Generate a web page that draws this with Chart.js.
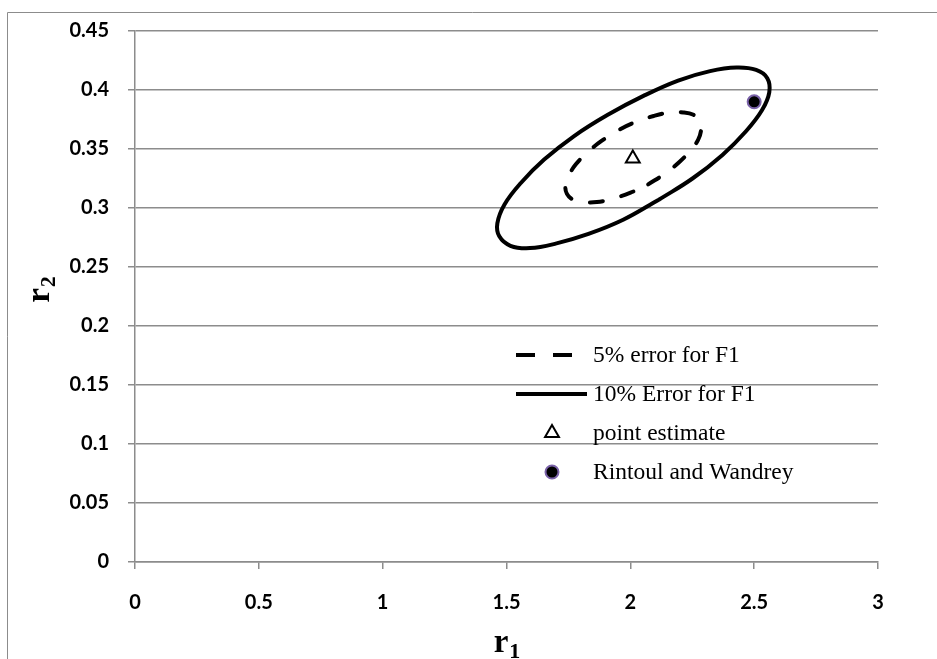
<!DOCTYPE html>
<html>
<head>
<meta charset="utf-8">
<title>r1 / r2 confidence regions</title>
<script src="https://cdn.jsdelivr.net/npm/chart.js@4.4.1/dist/chart.umd.min.js"></script>
<style>
  html, body { margin: 0; padding: 0; background: #ffffff; }
  #wrap { width: 937px; height: 659px; position: relative; }
</style>
</head>
<body>
<div id="wrap"><canvas id="chart" width="937" height="659"></canvas></div>
<script>
// Axis tick labels
const xTickLabels = ['0', '0.5', '1', '1.5', '2', '2.5', '3'];
const yTickLabels = ['0', '0.05', '0.1', '0.15', '0.2', '0.25', '0.3', '0.35', '0.4', '0.45'];

// Series names
const seriesNames = ['5% error for F1', '10% Error for F1', 'point estimate', 'Rintoul and Wandrey'];

// 5% error contour for F1 (closed loop, r1 / r2), starting on the lower-right side
const r1Err5 = [2.072, 2.139, 2.198, 2.244, 2.274, 2.286, 2.280, 2.255, 2.214, 2.159, 2.094, 2.023,
                1.952, 1.885, 1.826, 1.780, 1.750, 1.738, 1.744, 1.769, 1.810, 1.865, 1.930, 2.001, 2.072];
const r2Err5 = [0.320, 0.329, 0.339, 0.349, 0.358, 0.367, 0.374, 0.379, 0.381, 0.381, 0.378, 0.373,
                0.366, 0.357, 0.347, 0.337, 0.327, 0.319, 0.312, 0.307, 0.305, 0.305, 0.308, 0.313, 0.320];

// 10% error contour for F1 (closed loop, r1 / r2), starting on the lower-right side
const r1Err10 = [2.115, 2.251, 2.372, 2.467, 2.532, 2.561, 2.553, 2.508, 2.429, 2.322, 2.193, 2.053,
                 1.909, 1.773, 1.652, 1.557, 1.492, 1.463, 1.471, 1.516, 1.595, 1.702, 1.831, 1.971, 2.115];
const r2Err10 = [0.307, 0.325, 0.345, 0.365, 0.383, 0.398, 0.410, 0.417, 0.419, 0.416, 0.408, 0.395,
                 0.379, 0.361, 0.341, 0.321, 0.303, 0.287, 0.276, 0.268, 0.266, 0.270, 0.278, 0.290, 0.307];

// Point estimate and literature value
const r1Estimate = [2.01];
const r2Estimate = [0.342];
const r1Rintoul = [2.5];
const r2Rintoul = [0.39];

const toPoints = (xs, ys) => xs.map((x, i) => ({ x: x, y: ys[i] }));

const GRID = '#8c8c8c';
const PURPLE = '#7a62a8';

// Outer frame around the chart area
const framePlugin = {
  id: 'frame',
  beforeDraw(chart) {
    const ctx = chart.ctx;
    ctx.save();
    ctx.fillStyle = '#ffffff';
    ctx.fillRect(0, 0, chart.width, chart.height);
    ctx.strokeStyle = GRID;
    ctx.lineWidth = 1;
    ctx.beginPath();
    ctx.moveTo(7.5, chart.height + 2);
    ctx.lineTo(7.5, 12.5);
    ctx.lineTo(chart.width + 2, 12.5);
    ctx.stroke();
    ctx.restore();
  }
};

// Axis titles with subscripts
const axisTitlePlugin = {
  id: 'axisTitles',
  afterDraw(chart) {
    const ctx = chart.ctx;
    const area = chart.chartArea;
    const big = 'bold 33px "Liberation Serif"';
    const small = 'bold 22px "Liberation Serif"';
    const drawTitle = (main, sub) => {
      ctx.font = big;
      const w1 = ctx.measureText(main).width;
      ctx.font = small;
      const w2 = ctx.measureText(sub).width;
      const start = -(w1 + w2) / 2;
      ctx.textBaseline = 'alphabetic';
      ctx.textAlign = 'left';
      ctx.font = big;
      ctx.fillText(main, start, 0);
      ctx.font = small;
      ctx.fillText(sub, start + w1 + 1, 6);
    };
    ctx.save();
    ctx.fillStyle = '#000000';
    ctx.translate((area.left + area.right) / 2, 652);
    drawTitle('r', '1');
    ctx.restore();

    ctx.save();
    ctx.fillStyle = '#000000';
    ctx.translate(49, 290);
    ctx.rotate(-Math.PI / 2);
    drawTitle('r', '2');
    ctx.restore();
  }
};

// Legend drawn inside the plot area
const legendPlugin = {
  id: 'innerLegend',
  afterDraw(chart) {
    const ctx = chart.ctx;
    const rows = [355, 394, 433, 472];
    const textX = 593;
    ctx.save();
    ctx.font = '23.5px "Liberation Serif"';
    ctx.textBaseline = 'middle';
    ctx.textAlign = 'left';
    ctx.fillStyle = '#000000';

    // dashed sample
    ctx.strokeStyle = '#000000';
    ctx.lineWidth = 4;
    ctx.lineCap = 'butt';
    ctx.setLineDash([19, 18]);
    ctx.beginPath();
    ctx.moveTo(516, rows[0]);
    ctx.lineTo(573, rows[0]);
    ctx.stroke();
    ctx.setLineDash([]);

    // solid sample
    ctx.beginPath();
    ctx.moveTo(516, rows[1]);
    ctx.lineTo(587, rows[1]);
    ctx.stroke();

    // triangle sample
    const r = 8;
    const cx = 552, cy = rows[2];
    ctx.lineWidth = 2;
    ctx.beginPath();
    ctx.moveTo(cx, cy - r);
    ctx.lineTo(cx + r * Math.cos(Math.PI / 6), cy + r * Math.sin(Math.PI / 6));
    ctx.lineTo(cx - r * Math.cos(Math.PI / 6), cy + r * Math.sin(Math.PI / 6));
    ctx.closePath();
    ctx.fillStyle = '#ffffff';
    ctx.fill();
    ctx.stroke();

    // circle sample
    ctx.beginPath();
    ctx.arc(552, rows[3], 6.5, 0, Math.PI * 2);
    ctx.fillStyle = '#000000';
    ctx.fill();
    ctx.strokeStyle = PURPLE;
    ctx.lineWidth = 2;
    ctx.stroke();

    ctx.fillStyle = '#000000';
    seriesNames.forEach((name, i) => ctx.fillText(name, textX, rows[i] + 1));
    ctx.restore();
  }
};

new Chart(document.getElementById('chart'), {
  type: 'scatter',
  data: {
    datasets: [
      {
        label: seriesNames[0],
        data: toPoints(r1Err5, r2Err5),
        showLine: true,
        borderColor: '#000000',
        borderWidth: 4,
        borderDash: [13, 19],
        borderCapStyle: 'round',
        tension: 0.4,
        pointRadius: 0,
        fill: false
      },
      {
        label: seriesNames[1],
        data: toPoints(r1Err10, r2Err10),
        showLine: true,
        borderColor: '#000000',
        borderWidth: 4,
        tension: 0.4,
        pointRadius: 0,
        fill: false
      },
      {
        label: seriesNames[2],
        data: toPoints(r1Estimate, r2Estimate),
        pointStyle: 'triangle',
        pointRadius: 8,
        pointBorderWidth: 2,
        pointBackgroundColor: '#ffffff',
        pointBorderColor: '#000000'
      },
      {
        label: seriesNames[3],
        data: toPoints(r1Rintoul, r2Rintoul),
        pointStyle: 'circle',
        pointRadius: 6.5,
        pointBorderWidth: 2,
        pointBackgroundColor: '#000000',
        pointBorderColor: PURPLE
      }
    ]
  },
  options: {
    responsive: false,
    animation: false,
    devicePixelRatio: 1,
    layout: { padding: { top: 27, right: 59, bottom: 0, left: 0 } },
    plugins: {
      legend: { display: false },
      tooltip: { enabled: false }
    },
    scales: {
      x: {
        type: 'linear',
        min: 0,
        max: 3,
        afterFit(scale) { scale.height = 97; },
        ticks: {
          stepSize: 0.5,
          color: '#000000',
          padding: 22,
          maxRotation: 0,
          font: { family: 'Lato', weight: 'bold', size: 20 },
          callback: (v, i) => xTickLabels[i]
        },
        grid: {
          drawOnChartArea: false,
          drawTicks: true,
          tickLength: 7,
          color: GRID,
          lineWidth: 1.5
        },
        border: { color: GRID, width: 1.5 }
      },
      y: {
        type: 'linear',
        min: 0,
        max: 0.45,
        afterFit(scale) { scale.width = 135; },
        ticks: {
          stepSize: 0.05,
          color: '#000000',
          padding: 19,
          font: { family: 'Lato', weight: 'bold', size: 20 },
          callback: (v, i) => yTickLabels[i]
        },
        grid: {
          color: GRID,
          lineWidth: 1.5,
          tickLength: 7
        },
        border: { color: GRID, width: 1.5 }
      }
    }
  },
  plugins: [framePlugin, axisTitlePlugin, legendPlugin]
});
</script>
</body>
</html>
